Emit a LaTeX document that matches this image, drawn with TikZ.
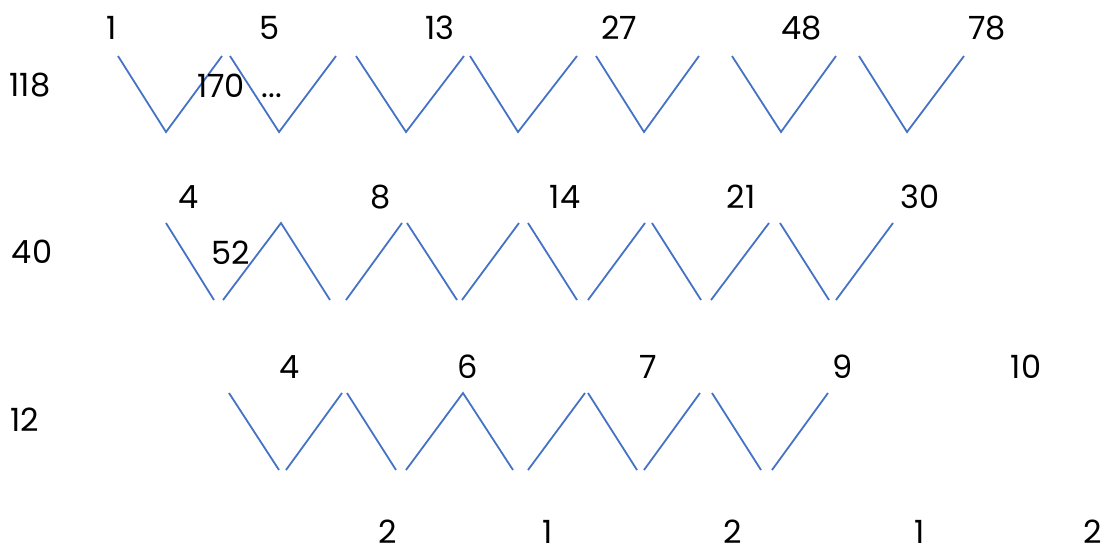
\documentclass[tikz,border=0pt]{standalone}
\usepackage{fontspec}
\setmainfont{Poppins}
\definecolor{zzblue}{RGB}{68,114,196}
\begin{document}
\begin{tikzpicture}[x=1pt,y=-1pt,
  zz/.style={draw=zzblue, line width=1.8pt},
  lbl/.style={font=\fontsize{32}{34}\selectfont, inner sep=0pt, anchor=center}]
\useasboundingbox (0,0) rectangle (1114,552);
% row 1 zigzags
\draw[zz] (118,56)--(166,132)--(222,56);
\draw[zz] (230,56)--(279,132)--(336,56);
\draw[zz] (356,56)--(406,132)--(464,56);
\draw[zz] (470,56)--(518,132)--(577,56);
\draw[zz] (596,56)--(644,132)--(699,56);
\draw[zz] (732,56)--(781,132)--(836,56);
\draw[zz] (859,56)--(907,132)--(964,56);
% row 2 zigzags
\draw[zz] (166,223)--(214,300);
\draw[zz] (223,300)--(281,223)--(330,300);
\draw[zz] (346,300)--(402,223);
\draw[zz] (407,223)--(457,300);
\draw[zz] (462,300)--(519,223);
\draw[zz] (528,223)--(577,300);
\draw[zz] (588,300)--(645,223);
\draw[zz] (652,223)--(701,300);
\draw[zz] (711,300)--(769,223);
\draw[zz] (780,223)--(829,300);
\draw[zz] (836,300)--(893,223);
% row 3 zigzags
\draw[zz] (229,393)--(279,470);
\draw[zz] (286,470)--(342,393);
\draw[zz] (347,393)--(396,470);
\draw[zz] (406,470)--(463,393)--(513,470);
\draw[zz] (528,470)--(585,393);
\draw[zz] (588,393)--(637,470);
\draw[zz] (644,470)--(700,393);
\draw[zz] (712,393)--(761,470);
\draw[zz] (772,470)--(828,393);
% row 1 labels
\node[lbl] (a1) at (112,28) {1};
\node[lbl] (a2) at (270,28) {5};
\node[lbl] (a3) at (440,28) {13};
\node[lbl] (a4) at (619,28) {27};
\node[lbl] (a5) at (802,28) {48};
\node[lbl] (a6) at (987,28) {78};
\node[lbl] (s1) at (30,85) {118};
\node[lbl, anchor=base] (s2) at (221,97) {170};
\node[lbl, anchor=base] (s3) at (272,97) {...};
% row 2 labels
\node[lbl] (b1) at (189,197) {4};
\node[lbl] (b2) at (381,197) {8};
\node[lbl] (b3) at (565,197) {14};
\node[lbl] (b4) at (741,197) {21};
\node[lbl] (b5) at (920,197) {30};
\node[lbl] (t1) at (32,252) {40};
\node[lbl] (t2) at (231,253) {52};
% row 3 labels
\node[lbl] (c1) at (290,367) {4};
\node[lbl] (c2) at (468,367) {6};
\node[lbl] (c3) at (648,367) {7};
\node[lbl] (c4) at (843,367) {9};
\node[lbl] (c5) at (1026,367) {10};
\node[lbl] (u1) at (25,420) {12};
% bottom labels
\node[lbl] (d1) at (388,532) {2};
\node[lbl] (d2) at (548,532) {1};
\node[lbl] (d3) at (733,532) {2};
\node[lbl] (d4) at (920,532) {1};
\node[lbl] (d5) at (1093,532) {2};
\end{tikzpicture}
\end{document}
